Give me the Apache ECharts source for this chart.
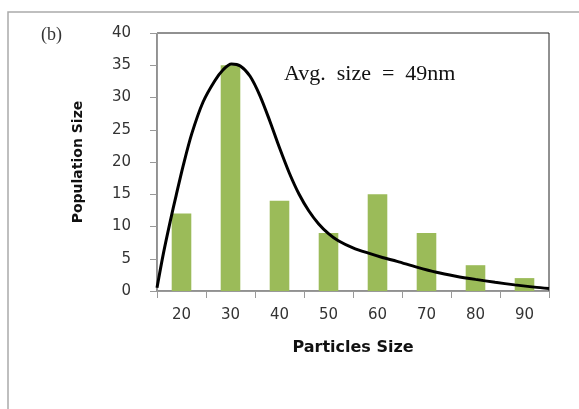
<!DOCTYPE html>
<html>
<head>
<meta charset="utf-8">
<script src="https://cdn.jsdelivr.net/npm/echarts@6/dist/echarts.min.js"></script>
<style>
  html, body { margin: 0; padding: 0; background: #fff; }
  #chart { width: 579px; height: 409px; }
</style>
</head>
<body>
<div id="chart"></div>
<script>
  // 柱状数据（粒径分布）
  var sizeLabels = ['20', '30', '40', '50', '60', '70', '80', '90'];
  var populationCounts = [12, 35, 14, 9, 15, 9, 4, 2];

  // 拟合曲线（从图中读出的点）
  var fitX = [15, 16.3, 17.7, 18.9, 20.4, 22.1, 24.4, 26.8, 28.5, 30.2, 32, 34, 36, 38, 40, 42, 44, 46, 48, 50, 52, 55, 58, 61, 64, 68, 72, 76, 80, 84, 88, 92, 95];
  var fitY = [0.5, 5.8, 10.8, 14.8, 19.6, 24.4, 29.3, 32.6, 34.3, 35.2, 34.9, 33.3, 30.3, 26.4, 22.2, 18.3, 15.0, 12.4, 10.4, 8.9, 7.8, 6.7, 5.9, 5.2, 4.6, 3.7, 2.9, 2.3, 1.8, 1.35, 0.95, 0.6, 0.4];

  var yTicks = { min: 0, max: 40, step: 5 };

  var fitData = [];
  for (var i = 0; i < fitX.length; i++) {
    fitData.push([fitX[i], fitY[i]]);
  }

  var chart = echarts.init(document.getElementById('chart'), null, {renderer: 'canvas'});
  chart.setOption({
    animation: false,
    title: [
      {
        text: '(b)',
        left: 36, top: 21,
        textStyle: {fontFamily: 'Liberation Serif', fontSize: 18, fontWeight: 'normal', color: '#333'}
      },
      {
        text: 'Avg.  size  =  49nm',
        left: 279, top: 58,
        textStyle: {fontFamily: 'Liberation Serif', fontSize: 22, fontWeight: 'normal', color: '#111'}
      }
    ],
    graphic: [
      {
        type: 'rect',
        shape: {x: 8, y: 12, width: 600, height: 420},
        style: {fill: 'none', stroke: '#aaa', lineWidth: 1.5},
        silent: true
      }
    ],
    grid: {
      left: 157, right: 30, top: 33, bottom: 118,
      show: true,
      borderColor: '#222',
      borderWidth: 1
    },
    xAxis: [
      {
        type: 'category',
        data: sizeLabels,
        boundaryGap: true,
        name: 'Particles Size',
        nameLocation: 'middle',
        nameGap: 49,
        nameTextStyle: {fontFamily: 'DejaVu Sans', fontWeight: 'bold', fontSize: 16, color: '#111'},
        axisLine: {lineStyle: {color: '#999', width: 1}},
        axisTick: {show: true, alignWithLabel: false, length: 7, lineStyle: {color: '#999'}},
        axisLabel: {margin: 17, fontFamily: 'DejaVu Sans', fontSize: 15, color: '#333'},
        splitLine: {show: false}
      },
      {
        type: 'value',
        min: 15, max: 95,
        show: false
      }
    ],
    yAxis: {
      type: 'value',
      min: yTicks.min, max: yTicks.max, interval: yTicks.step,
      name: 'Population Size',
      nameLocation: 'middle',
      nameGap: 72,
      nameRotate: 90,
      nameTextStyle: {fontFamily: 'DejaVu Sans', fontWeight: 'bold', fontSize: 14, color: '#111'},
      axisLine: {show: true, lineStyle: {color: '#999', width: 1}},
      axisTick: {show: true, length: 7, lineStyle: {color: '#999'}},
      axisLabel: {margin: 26, fontFamily: 'DejaVu Sans', fontSize: 15, color: '#333'},
      splitLine: {show: false}
    },
    series: [
      {
        type: 'bar',
        data: populationCounts,
        barWidth: '40%',
        itemStyle: {color: '#9bbb59'}
      },
      {
        type: 'line',
        xAxisIndex: 1,
        data: fitData,
        smooth: 0.3,
        symbol: 'none',
        lineStyle: {color: '#000', width: 3}
      }
    ]
  });
</script>
</body>
</html>
